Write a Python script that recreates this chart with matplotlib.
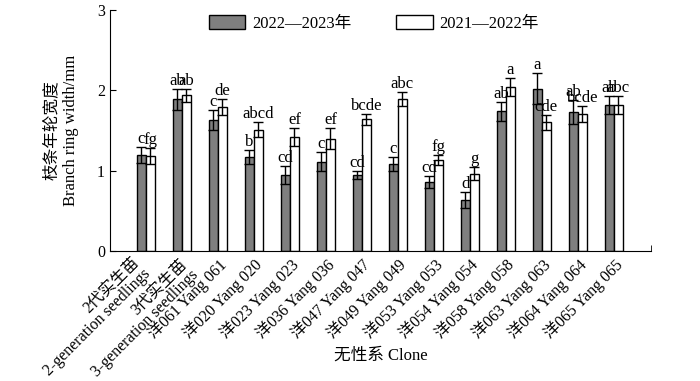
import numpy as np
import matplotlib
matplotlib.use("Agg")
import matplotlib.pyplot as plt
from matplotlib.patches import Patch
from matplotlib.transforms import ScaledTranslation

plt.rcParams['font.family'] = ['Liberation Serif', 'Noto Sans CJK SC']

# 无性系 / 实生苗
labels = ["2代实生苗\n2-generation seedlings", "3代实生苗\n3-generation seedlings",
          "洋061 Yang 061", "洋020 Yang 020", "洋023 Yang 023", "洋036 Yang 036",
          "洋047 Yang 047", "洋049 Yang 049", "洋053 Yang 053", "洋054 Yang 054",
          "洋058 Yang 058", "洋063 Yang 063", "洋064 Yang 064", "洋065 Yang 065"]
w2223 = [1.20, 1.89, 1.63, 1.17, 0.95, 1.11, 0.95, 1.08, 0.86, 0.64, 1.74, 2.02, 1.73, 1.82]
e2223 = [0.10, 0.13, 0.13, 0.09, 0.11, 0.12, 0.05, 0.09, 0.08, 0.10, 0.12, 0.19, 0.15, 0.11]
w2122 = [1.18, 1.94, 1.79, 1.51, 1.42, 1.40, 1.64, 1.89, 1.13, 0.96, 2.04, 1.60, 1.70, 1.82]
e2122 = [0.10, 0.08, 0.10, 0.09, 0.11, 0.13, 0.07, 0.09, 0.06, 0.08, 0.11, 0.09, 0.10, 0.11]
sig2223 = ["c", "ab", "c", "b", "cd", "c", "cd", "c", "cd", "d", "ab", "a", "ab", "ab"]
sig2122 = ["fg", "ab", "de", "abcd", "ef", "ef", "bcde", "abc", "fg", "g", "a", "cde", "bcde", "abc"]

x = np.arange(len(labels))
bw = 0.25

fig = plt.figure(figsize=(7, 3.81), dpi=100)
ax = fig.add_axes([0.157, 0.341, 0.773, 0.633])

ekw = dict(elinewidth=1, capsize=3.5, capthick=1, ecolor="black")
ax.bar(x - bw/2, w2223, bw, yerr=e2223, color="#7f7f7f", edgecolor="black", lw=1, error_kw=ekw)
ax.bar(x + bw/2, w2122, bw, yerr=e2122, color="white", edgecolor="black", lw=1, error_kw=ekw)

for i in range(len(x)):
    ax.annotate(sig2223[i], (x[i] - bw/2, w2223[i] + e2223[i]), xytext=(0, 0),
                textcoords="offset points", ha="center", va="bottom", fontsize=12)
    ax.annotate(sig2122[i], (x[i] + bw/2, w2122[i] + e2122[i]), xytext=(0, 0),
                textcoords="offset points", ha="center", va="bottom", fontsize=12)

ax.set_xlim(-1, 14.03)
ax.set_ylim(0, 3)
ax.set_yticks([0, 1, 2, 3])
ax.tick_params(axis="y", direction="in", length=4, labelsize=11.5)
ax.set_xticks(x)
ax.set_xticklabels(labels, rotation=45, ha="right", rotation_mode="anchor",
                   multialignment="right", fontsize=11.5, linespacing=0.95)
ax.tick_params(axis="x", length=0, pad=4)
ax.set_xticks([14.03], minor=True)
ax.tick_params(axis="x", which="minor", direction="in", length=4)
for s in ["top", "right"]:
    ax.spines[s].set_visible(False)

# two-line labels are nudged like in the original
shifts = [(-0.14, 0.02), (-0.02, 0.0)]
for lbl, (dx, dy) in zip(ax.get_xticklabels()[:2], shifts):
    lbl.set_transform(lbl.get_transform() + ScaledTranslation(dx, dy, fig.dpi_scale_trans))

ax.set_xlabel("无性系 Clone", fontsize=12)
ax.xaxis.set_label_coords(0.5, -0.40)
ax.set_ylabel("枝条年轮宽度\nBranch ring width/mm", fontsize=12, linespacing=1.3)
ax.yaxis.set_label_coords(-0.057, 0.5)

handles = [Patch(facecolor="#7f7f7f", edgecolor="black", label="2022—2023年"),
           Patch(facecolor="white", edgecolor="black", label="2021—2022年")]
fig.legend(handles=handles, loc="upper center", bbox_to_anchor=(0.534, 1.0), ncol=2,
           frameon=False, fontsize=12, handlelength=2.2, handleheight=0.9,
           handletextpad=0.4, columnspacing=2.7)

fig.savefig("out.png", dpi=100)
